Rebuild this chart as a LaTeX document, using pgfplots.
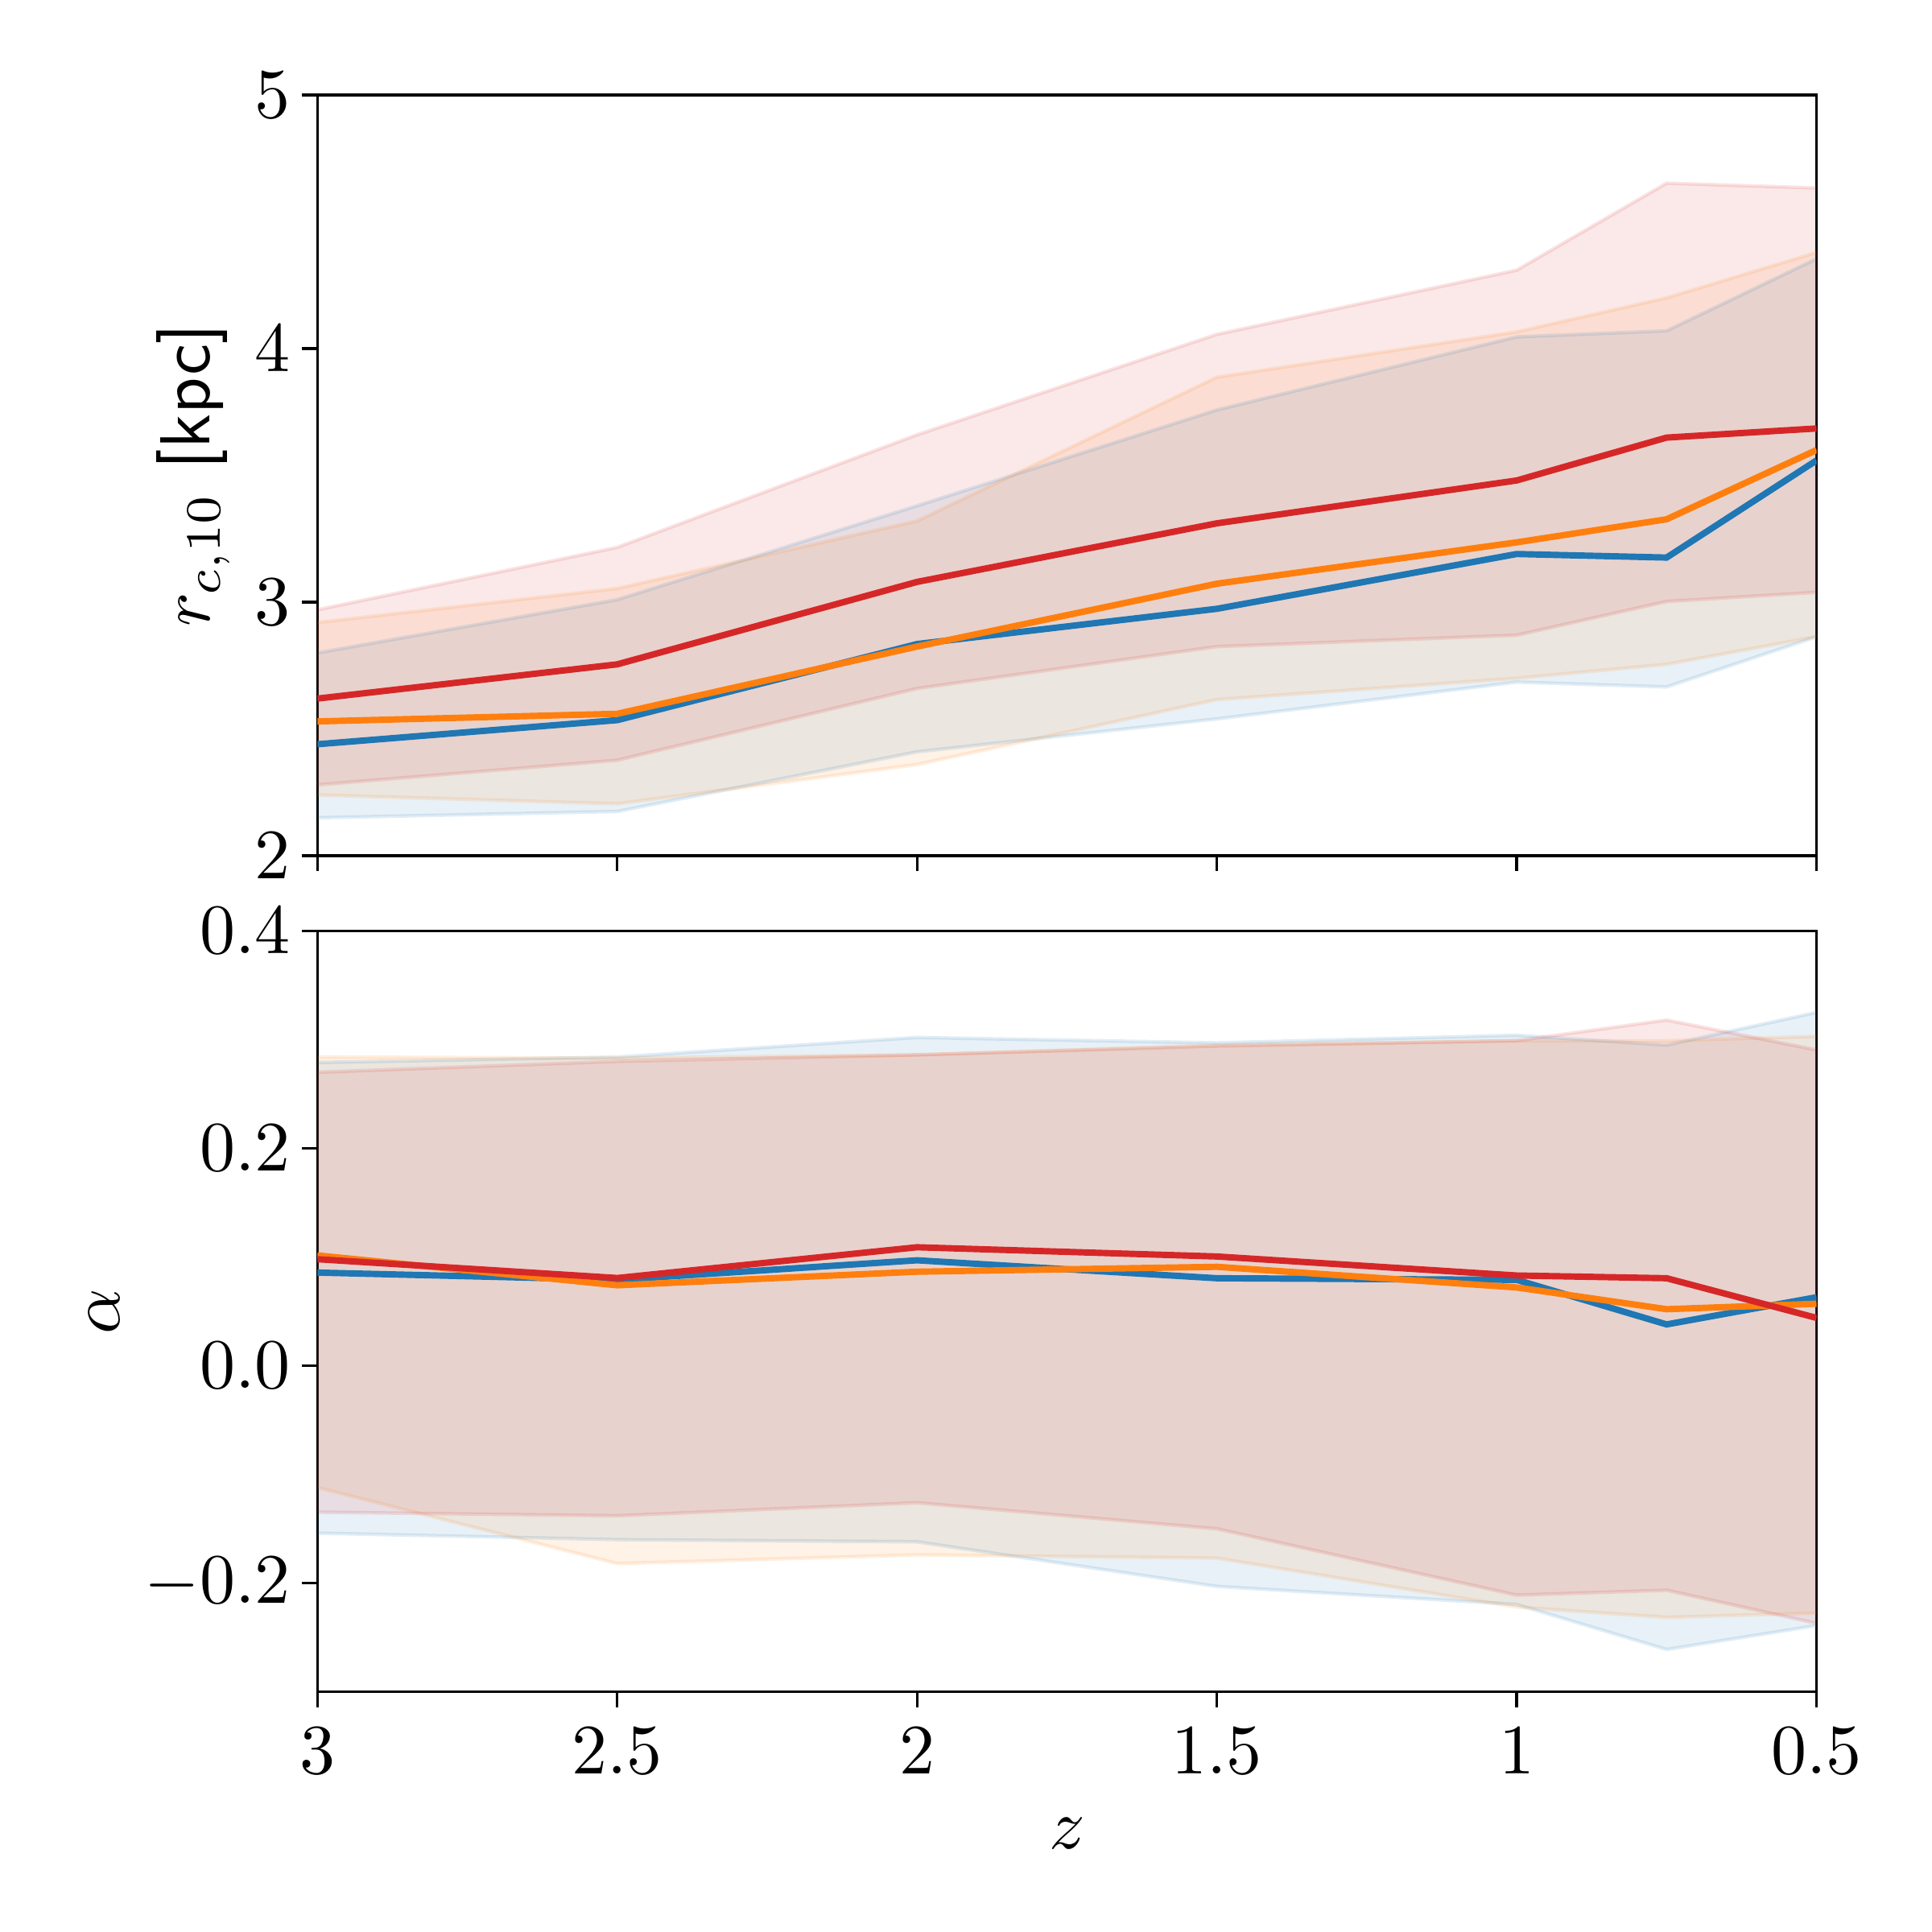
\documentclass[border=0pt]{standalone}
\usepackage{pgfplots}
\pgfplotsset{compat=1.18}
\usepackage{pgfplotstable}
\usepgfplotslibrary{fillbetween}
\definecolor{tabblue}{HTML}{1F77B4}
\definecolor{taborange}{HTML}{FF7F0E}
\definecolor{tabred}{HTML}{D62728}

\pgfplotstableread{
z bm bl bh om ol oh rm rl rh
3 2.44 2.15 2.80 2.53 2.24 2.92 2.62 2.28 2.97
2.5 2.535 2.175 3.01 2.56 2.205 3.054 2.755 2.377 3.216
2 2.835 2.41 3.38 2.825 2.36 3.32 3.08 2.66 3.66
1.5 2.974 2.54 3.758 3.073 2.616 3.887 3.311 2.825 4.056
1 3.19 2.685 4.046 3.236 2.70 4.066 3.48 2.87 4.309
0.75 3.176 2.666 4.07 3.327 2.755 4.20 3.649 3.003 4.652
0.5 3.559 2.864 4.354 3.60 2.864 4.379 3.685 3.039 4.633
}\toptab

\pgfplotstableread{
z bm bl bh om ol oh rm rl rh
3 0.0857 -0.154 0.279 0.1015 -0.112 0.284 0.098 -0.1347 0.270
2.5 0.079 -0.160 0.284 0.074 -0.182 0.283 0.0807 -0.138 0.280
2 0.097 -0.162 0.302 0.0865 -0.174 0.286 0.109 -0.126 0.286
1.5 0.0805 -0.203 0.297 0.091 -0.177 0.295 0.1005 -0.150 0.294
1 0.079 -0.2196 0.304 0.072 -0.222 0.299 0.083 -0.211 0.299
0.75 0.038 -0.261 0.295 0.052 -0.2315 0.299 0.0805 -0.2065 0.318
0.5 0.063 -0.239 0.325 0.057 -0.2275 0.303 0.044 -0.237 0.2905
}\bottab

\pgfplotsset{
  myaxis/.style={
    scale only axis, width=211.6pt, height=107.4pt,
    x dir=reverse, xmin=0.5, xmax=3,
    xtick={0.5,1,1.5,2,2.5,3},
    tick align=outside, tick pos=left,
    major tick length=2.16pt,
    yticklabel shift=-1.9pt, xticklabel shift=-0.6pt,
    ylabel shift=-3.3pt, xlabel shift=-0.6pt,
    axis line style={line width=0.375pt},
    every tick/.append style={black, line width=0.375pt},
  },
  band/.style={draw=#1, draw opacity=0.13, line width=0.5pt, forget plot},
  fillb/.style={fill=#1, fill opacity=0.1, draw=none, forget plot},
  mean/.style={draw=#1, line width=0.9pt, mark=none},
}

\begin{document}
\begin{tikzpicture}
\begin{axis}[myaxis, at={(0,0)}, anchor=south west,
  ymin=2, ymax=5, ytick={2,3,4,5}, xticklabels={},
  ylabel={$r_{c,10}$ \textsf{[kpc]}}]
  \addplot[name path=tbh, band=tabblue] table[x=z,y=bh]{\toptab};
  \addplot[name path=tbl, band=tabblue] table[x=z,y=bl]{\toptab};
  \addplot[fillb=tabblue] fill between[of=tbh and tbl];
  \addplot[name path=toh, band=taborange] table[x=z,y=oh]{\toptab};
  \addplot[name path=tol, band=taborange] table[x=z,y=ol]{\toptab};
  \addplot[fillb=taborange] fill between[of=toh and tol];
  \addplot[name path=trh, band=tabred] table[x=z,y=rh]{\toptab};
  \addplot[name path=trl, band=tabred] table[x=z,y=rl]{\toptab};
  \addplot[fillb=tabred] fill between[of=trh and trl];
  \addplot[mean=tabblue] table[x=z,y=bm]{\toptab};
  \addplot[mean=taborange] table[x=z,y=om]{\toptab};
  \addplot[mean=tabred] table[x=z,y=rm]{\toptab};
\end{axis}
\begin{axis}[myaxis, at={(0,-10.6pt)}, anchor=north west,
  ymin=-0.3, ymax=0.4, ytick={-0.2,0,0.2,0.4},
  yticklabel style={/pgf/number format/.cd, fixed, fixed zerofill, precision=1},
  xlabel={$z$}, ylabel={$\alpha$}]
  \addplot[name path=bbh, band=tabblue] table[x=z,y=bh]{\bottab};
  \addplot[name path=bbl, band=tabblue] table[x=z,y=bl]{\bottab};
  \addplot[fillb=tabblue] fill between[of=bbh and bbl];
  \addplot[name path=boh, band=taborange] table[x=z,y=oh]{\bottab};
  \addplot[name path=bol, band=taborange] table[x=z,y=ol]{\bottab};
  \addplot[fillb=taborange] fill between[of=boh and bol];
  \addplot[name path=brh, band=tabred] table[x=z,y=rh]{\bottab};
  \addplot[name path=brl, band=tabred] table[x=z,y=rl]{\bottab};
  \addplot[fillb=tabred] fill between[of=brh and brl];
  \addplot[mean=tabblue] table[x=z,y=bm]{\bottab};
  \addplot[mean=taborange] table[x=z,y=om]{\bottab};
  \addplot[mean=tabred] table[x=z,y=rm]{\bottab};
\end{axis}
\pgfresetboundingbox
\useasboundingbox (-44.8pt,-151.9pt) rectangle (227.8pt,120.8pt);
\end{tikzpicture}
\end{document}
